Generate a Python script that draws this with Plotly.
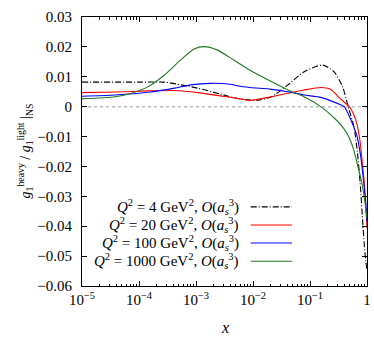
import plotly.graph_objects as go

# x positions (Bjorken x) for each read-off curve
x_q4 = [1e-5, 1e-4, 2.8e-4, 5.5e-4, 1.07e-3, 2.7e-3, 5.2e-3, 8.9e-3, 1.23e-2, 2.1e-2,
        4.1e-2, 7.9e-2, 0.166, 0.263, 0.372, 0.468, 0.589, 0.676, 0.759, 0.85, 0.92, 0.96, 1.0]
y_q4 = [0.0082, 0.0082, 0.0082, 0.0073, 0.0062, 0.0042, 0.0028, 0.0022, 0.0022, 0.0033,
        0.0073, 0.0117, 0.0139, 0.0117, 0.0067, 0.0, -0.0067, -0.015, -0.0256, -0.040, -0.049, -0.052, -0.055]

x_q20 = [1e-5, 3.8e-5, 1.45e-4, 4.2e-4, 1.07e-3, 2.7e-3, 6.0e-3, 8.9e-3, 2.1e-2,
         4.1e-2, 7.9e-2, 0.155, 0.229, 0.347, 0.49, 0.589, 0.67, 0.76, 0.82, 0.887, 0.95, 1.0]
y_q20 = [0.0047, 0.0049, 0.0053, 0.0054, 0.0047, 0.0036, 0.0026, 0.0021, 0.0033,
         0.0045, 0.0056, 0.0064, 0.0058, 0.0025, 0.0, -0.0028, -0.0060, -0.012, -0.018, -0.0245, -0.033, -0.0407]

x_q100 = [1e-5, 3.8e-5, 1.45e-4, 4.2e-4, 8.1e-4, 1.8e-3, 4.0e-3, 5.5e-3, 8.9e-3,
          2.1e-2, 4.1e-2, 7.9e-2, 0.155, 0.302, 0.398, 0.47, 0.56, 0.67, 0.78, 0.877, 0.95, 1.0]
y_q100 = [0.0035, 0.0039, 0.0048, 0.0062, 0.0073, 0.0078, 0.0075, 0.0069, 0.0064,
          0.0058, 0.0050, 0.0039, 0.0031, 0.0011, 0.0, -0.0025, -0.0058, -0.0100, -0.017, -0.0256, -0.032, -0.0385]

x_q1000 = [1e-5, 3.8e-5, 7.4e-5, 1.45e-4, 2.8e-4, 5.5e-4, 9.3e-4, 1.38e-3, 2.34e-3, 4.6e-3,
           8.9e-3, 2.1e-2, 4.1e-2, 7.9e-2, 0.155, 0.302, 0.398, 0.49, 0.58, 0.67, 0.78, 0.875, 1.0]
y_q1000 = [0.0026, 0.0033, 0.0045, 0.0067, 0.0106, 0.0158, 0.0193, 0.0201, 0.0190, 0.0156,
           0.0122, 0.0084, 0.0056, 0.0033, 0.0, -0.0048, -0.0075, -0.0105, -0.0142, -0.0189, -0.024, -0.029, -0.0373]

labels = ["4", "20", "100", "1000"]
colors = ["#000000", "#ff0000", "#0000ff", "#1f7a1f"]
dashes = ["6px,2px,1px,2px", "solid", "solid", "solid"]

x_tickvals = [1e-5, 1e-4, 1e-3, 1e-2, 1e-1, 1]
x_ticktext = ["10<sup>−5</sup>", "10<sup>−4</sup>", "10<sup>−3</sup>", "10<sup>−2</sup>", "10<sup>−1</sup>", "1"]
y_tickvals = [0.03, 0.02, 0.01, 0, -0.01, -0.02, -0.03, -0.04, -0.05, -0.06]
y_ticktext = ["0.03", "0.02", "0.01", "0", "−0.01", "−0.02", "−0.03", "−0.04", "−0.05", "−0.06"]

series = [(x_q4, y_q4), (x_q20, y_q20), (x_q100, y_q100), (x_q1000, y_q1000)]

FONT = "Liberation Serif"
fig = go.Figure()
for (xs, ys), c, d in zip(series, colors, dashes):
    fig.add_trace(go.Scatter(x=xs, y=ys, mode="lines",
                             line=dict(color=c, width=1.1, dash=d, shape="spline", smoothing=0.7),
                             showlegend=False, hoverinfo="skip", cliponaxis=True))

# zero line
fig.add_shape(type="line", xref="paper", yref="y", x0=0, x1=1, y0=0, y1=0,
              line=dict(color="#bbbbbb", width=1.5, dash="dot"), layer="below")

# custom legend (text left, sample right)
row_y = [0.294, 0.227, 0.160, 0.092]
for lab, c, d, yy in zip(labels, colors, dashes, row_y):
    fig.add_annotation(xref="paper", yref="paper", x=0.557, y=yy, xanchor="right", yanchor="middle",
                       showarrow=False,
                       text=f"<i>Q</i><sup>2</sup> = {lab} GeV<sup>2</sup>, <i>O</i>(<i>a</i><sub><i>s</i></sub><sup>3</sup>)",
                       font=dict(family=FONT, size=15, color="black"))
    fig.add_shape(type="line", xref="paper", yref="paper", x0=0.592, x1=0.737, y0=yy, y1=yy,
                  line=dict(color=c, width=1.1, dash=d))

# y-axis title
fig.add_annotation(xref="paper", yref="paper", x=-0.2, y=0.5, xanchor="center", yanchor="middle",
                   showarrow=False, textangle=-90,
                   text="<i>g</i><sub>1</sub><sup>heavy</sup> / <i>g</i><sub>1</sub><sup>light</sup> |<sub>NS</sub>",
                   font=dict(family=FONT, size=14, color="black"))
# x-axis title
fig.add_annotation(xref="paper", yref="paper", x=0.5, y=-0.155, xanchor="center", yanchor="middle",
                   showarrow=False, text="<i>x</i>", font=dict(family=FONT, size=16, color="black"))

fig.update_layout(
    width=374, height=337,
    margin=dict(l=82, r=3, t=17, b=51),
    paper_bgcolor="white", plot_bgcolor="white",
    font=dict(family=FONT, size=15, color="black"),
    xaxis=dict(type="log", range=[-5, 0], tickvals=x_tickvals, ticktext=x_ticktext,
               ticks="inside", ticklen=5, tickcolor="black", showline=True, linecolor="black",
               linewidth=1, mirror="allticks", showgrid=False, zeroline=False,
               tickfont=dict(family=FONT, size=15), ticklabeloverflow="allow",
               minor=dict(ticks="inside", ticklen=2.5, tickcolor="black", showgrid=False, dtick="D1")),
    yaxis=dict(range=[-0.06, 0.03], tickvals=y_tickvals, ticktext=y_ticktext,
               ticks="inside", ticklen=5, tickcolor="black", showline=True, linecolor="black",
               linewidth=1, mirror="allticks", showgrid=False, zeroline=False,
               tickfont=dict(family=FONT, size=15), ticklabelstandoff=6),
)

fig.write_html("out.html", config={"displayModeBar": False},
               post_script="document.body.style.margin='0';document.body.style.overflow='hidden';")
